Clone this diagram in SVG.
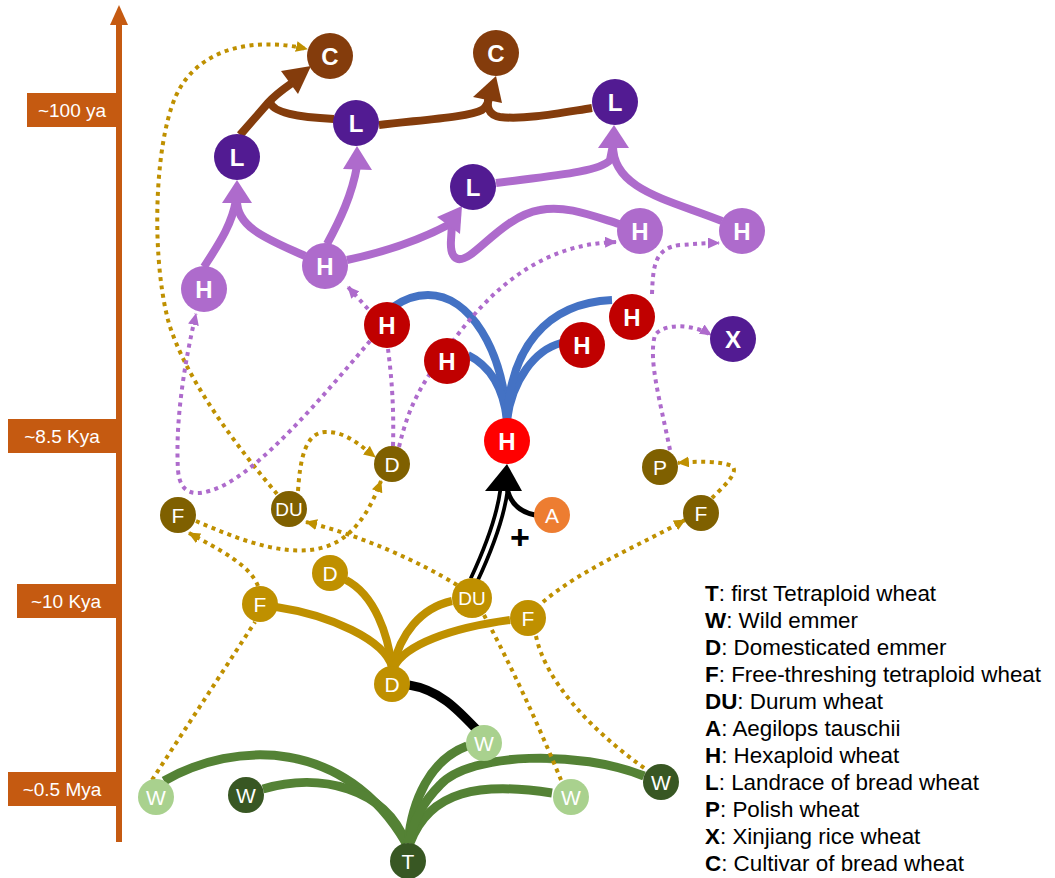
<svg xmlns="http://www.w3.org/2000/svg" width="1055" height="878" viewBox="0 0 1055 878">
<defs>
<style>
.e{fill:none;stroke-linecap:butt}
.pu{stroke:#ae6bcc;stroke-width:8}
.br{stroke:#843c0c;stroke-width:8}
.bl{stroke:#4472c4;stroke-width:8}
.go{stroke:#bf9000;stroke-width:8}
.gr{stroke:#548235;stroke-width:9}
.dg{stroke:#bf9000;stroke-width:4;stroke-dasharray:4 4.5}
.dp{stroke:#ae6bcc;stroke-width:4;stroke-dasharray:4 4.5}
.lbl{font-family:"Liberation Sans",Arial,sans-serif;fill:#fff;text-anchor:middle}
.big{font-weight:bold;font-size:24px}
.sm{font-size:21px}
.du{font-size:19px}
.tl{font-family:"Liberation Sans",Arial,sans-serif;fill:#fff;font-size:19px;text-anchor:middle}
.lg{font-family:"Liberation Sans",Arial,sans-serif;font-size:22.4px;fill:#000}
.lg tspan.b{font-weight:bold}
</style>
<marker id="ag" markerUnits="userSpaceOnUse" markerWidth="12" markerHeight="11" refX="11" refY="5.5" orient="auto"><path d="M0,0 L12,5.5 L0,11 z" fill="#bf9000"/></marker>
<marker id="ap" markerUnits="userSpaceOnUse" markerWidth="12" markerHeight="11" refX="11" refY="5.5" orient="auto"><path d="M0,0 L12,5.5 L0,11 z" fill="#ae6bcc"/></marker>
</defs>

<g id="timeline">
<line x1="119" y1="20" x2="119" y2="842" stroke="#c55a11" stroke-width="6"/>
<polygon points="119,5 110,25 128,25" fill="#c55a11"/>
<rect x="27" y="93" width="90" height="34" fill="#c55a11"/>
<text class="tl" x="72" y="117">~100 ya</text>
<rect x="8" y="419" width="109" height="34" fill="#c55a11"/>
<text class="tl" x="62" y="443">~8.5 Kya</text>
<rect x="17" y="584" width="100" height="34" fill="#c55a11"/>
<text class="tl" x="66" y="608">~10 Kya</text>
<rect x="8" y="772" width="109" height="34" fill="#c55a11"/>
<text class="tl" x="62" y="796">~0.5 Mya</text>
</g>

<g id="connectors">
<!-- green -->
<path class="e gr" d="M164,781 C235,740 345,738 406,843"/>
<path class="e gr" d="M263,789 C320,772 385,788 406,843"/>
<path class="e gr" d="M467,746 C430,760 412,800 408,843"/>
<path class="e gr" d="M552,793 C480,782 430,790 410,843"/>
<path class="e gr" d="M644,776 C580,750 470,752 440,785 C425,800 413,820 409,843"/>
<!-- black D to W -->
<path class="e" d="M409,685 C440,690 458,710 478,731" stroke="#000" stroke-width="9"/>
<!-- gold solid -->
<path class="e go" d="M346,580 C375,595 388,635 392,667"/>
<path class="e go" d="M276,607 C330,615 385,640 392,667"/>
<path class="e go" d="M452,601 C420,608 400,635 393,667"/>
<path class="e go" d="M510,620 C450,628 405,645 394,667"/>
<!-- double arrow DU to H -->
<path class="e" d="M474,580 C488,550 500,520 504,490" stroke="#000" stroke-width="11"/>
<path class="e" d="M474,580 C488,550 500,520 504,490" stroke="#fff" stroke-width="3.5"/>
<path class="e" d="M535,515 C520,512 510,503 507,488" stroke="#000" stroke-width="5"/>
<polygon points="507,464 485,491 522,491" fill="#000"/>
<text x="520" y="549" font-family="Liberation Sans,Arial,sans-serif" font-weight="bold" font-size="34" text-anchor="middle" fill="#000">+</text>
<!-- blue -->
<path class="e bl" d="M507,420 C503,350 470,295 428,295 C412,295 400,302 393,307"/>
<path class="e bl" d="M468,355 C488,365 503,385 507,420"/>
<path class="e bl" d="M561,343 C535,350 512,380 507,420"/>
<path class="e bl" d="M507,420 C510,350 545,303 612,300"/>
<!-- purple solid -->
<path class="e pu" d="M204,267 C218,245 232,225 236,200"/>
<path class="e pu" d="M305,256 C270,240 236,228 237,200"/>
<polygon points="237,180 222,203 252,203" fill="#ae6bcc"/>
<path class="e pu" d="M327,244 C340,220 352,195 357,166"/>
<polygon points="357,146 343,169 372,170" fill="#ae6bcc"/>
<path class="e pu" d="M347,260 C385,252 420,240 450,224"/>
<path class="e pu" d="M619,224 C590,215 565,205 540,210 C510,215 485,245 470,255 C455,265 450,255 451,240 L452,224"/>
<polygon points="462,206 437,217 460,234" fill="#ae6bcc"/>
<path class="e pu" d="M496,183 C550,176 600,172 610,160 L613,145"/>
<path class="e pu" d="M722,221 C670,200 612,190 613,145"/>
<polygon points="614,125 598,148 629,148" fill="#ae6bcc"/>
<!-- brown -->
<path class="e br" d="M240,135 L268,103 C274,96 282,90 292,83"/>
<path class="e br" d="M334,119 C300,117 271,113 270,101"/>
<polygon points="311,66 281,71 298,94" fill="#843c0c"/>
<path class="e br" d="M379,125 C420,120 470,117 482,110 C488,106 489,100 489,96"/>
<path class="e br" d="M592,108 C560,113 525,120 500,117 C488,115 486,106 489,96"/>
<polygon points="496,76 473,97 502,103" fill="#843c0c"/>
<!-- dotted gold -->
<path class="e dg" marker-end="url(#ag)" d="M277,494 C240,450 185,380 168,320 C150,250 155,130 180,88 C205,45 260,38 307,49"/>
<path class="e dg" marker-end="url(#ag)" d="M298,491 C300,460 305,433 325,432 C345,431 360,445 375,457"/>
<path class="e dg" marker-end="url(#ag)" d="M196,521 C240,540 300,565 340,540 C360,527 372,505 381,481"/>
<path class="e dg" marker-end="url(#ag)" d="M457,585 C420,562 360,535 306,522"/>
<path class="e dg" marker-end="url(#ag)" d="M258,586 C250,565 220,550 189,533"/>
<path class="e dg" d="M152,780 L255,622"/>
<path class="e dg" marker-end="url(#ag)" d="M543,602 C580,570 640,545 685,520"/>
<path class="e dg" marker-end="url(#ag)" d="M712,498 C722,488 740,472 732,466 C720,461 697,461 678,463"/>
<path class="e dg" d="M484,615 Q524,690 561,780"/>
<path class="e dg" d="M536,636 C545,680 590,730 647,770"/>
<!-- dotted purple -->
<path class="e dp" marker-end="url(#ap)" d="M370,341 C320,400 262,468 220,487 C195,498 180,495 178,470 C175,420 185,360 196,314"/>
<path class="e dp" marker-end="url(#ap)" d="M368,309 L348,287"/>
<path class="e dp" d="M393,446 C394,410 392,380 388,349"/>
<path class="e dp" marker-end="url(#ap)" d="M399,447 C410,400 425,380 450,345 C490,290 540,244 616,242"/>
<path class="e dp" marker-end="url(#ap)" d="M652,294 C653,265 655,248 680,245 C695,244 705,243 719,243"/>
<path class="e dp" marker-end="url(#ap)" d="M670,450 C660,400 648,360 655,335 C665,322 695,325 711,335"/>
</g>

<g id="node-C1"><circle cx="330" cy="56" r="23" fill="#843c0c"/><text class="lbl big" x="330" y="65">C</text></g>
<g id="node-C2"><circle cx="496" cy="53" r="23" fill="#843c0c"/><text class="lbl big" x="496" y="62">C</text></g>
<g id="node-L1"><circle cx="237" cy="157" r="23" fill="#521b92"/><text class="lbl big" x="237" y="166">L</text></g>
<g id="node-L2"><circle cx="356" cy="123" r="23" fill="#521b92"/><text class="lbl big" x="356" y="132">L</text></g>
<g id="node-L3"><circle cx="473" cy="187" r="23" fill="#521b92"/><text class="lbl big" x="473" y="196">L</text></g>
<g id="node-L4"><circle cx="615" cy="102" r="23" fill="#521b92"/><text class="lbl big" x="615" y="111">L</text></g>
<g id="node-Hp1"><circle cx="204" cy="289" r="23" fill="#ae6bcc"/><text class="lbl big" x="204" y="298">H</text></g>
<g id="node-Hp2"><circle cx="325" cy="266" r="23" fill="#ae6bcc"/><text class="lbl big" x="325" y="275">H</text></g>
<g id="node-Hp3"><circle cx="640" cy="231" r="23" fill="#ae6bcc"/><text class="lbl big" x="640" y="240">H</text></g>
<g id="node-Hp4"><circle cx="742" cy="231" r="23" fill="#ae6bcc"/><text class="lbl big" x="742" y="240">H</text></g>
<g id="node-Hr1"><circle cx="387" cy="325" r="23" fill="#c00000"/><text class="lbl big" x="387" y="334">H</text></g>
<g id="node-Hr2"><circle cx="447" cy="361" r="23" fill="#c00000"/><text class="lbl big" x="447" y="370">H</text></g>
<g id="node-Hr3"><circle cx="582" cy="345" r="23" fill="#c00000"/><text class="lbl big" x="582" y="354">H</text></g>
<g id="node-Hr4"><circle cx="632" cy="317" r="23" fill="#c00000"/><text class="lbl big" x="632" y="326">H</text></g>
<g id="node-X"><circle cx="733" cy="339" r="23" fill="#521b92"/><text class="lbl big" x="733" y="348">X</text></g>
<g id="node-H0"><circle cx="507" cy="441" r="23" fill="#ff0000"/><text class="lbl big" x="507" y="450">H</text></g>
<g id="node-Db"><circle cx="392" cy="464" r="18" fill="#7f6000"/><text class="lbl sm" x="392" y="472">D</text></g>
<g id="node-DUb"><circle cx="289" cy="509" r="18" fill="#7f6000"/><text class="lbl du" x="289" y="516">DU</text></g>
<g id="node-Fb1"><circle cx="178" cy="515" r="18" fill="#7f6000"/><text class="lbl sm" x="178" y="523">F</text></g>
<g id="node-P"><circle cx="660" cy="467" r="18" fill="#7f6000"/><text class="lbl sm" x="660" y="475">P</text></g>
<g id="node-Fb2"><circle cx="701" cy="513" r="18" fill="#7f6000"/><text class="lbl sm" x="701" y="521">F</text></g>
<g id="node-A"><circle cx="552" cy="515" r="18" fill="#ed7d31"/><text class="lbl sm" x="552" y="523">A</text></g>
<g id="node-Dg1"><circle cx="330" cy="573" r="18" fill="#bf9000"/><text class="lbl sm" x="330" y="581">D</text></g>
<g id="node-Fg1"><circle cx="260" cy="604" r="18" fill="#bf9000"/><text class="lbl sm" x="260" y="612">F</text></g>
<g id="node-DUg"><circle cx="472" cy="598" r="20" fill="#bf9000"/><text class="lbl du" x="472" y="605">DU</text></g>
<g id="node-Fg2"><circle cx="528" cy="618" r="18" fill="#bf9000"/><text class="lbl sm" x="528" y="626">F</text></g>
<g id="node-Dg2"><circle cx="392" cy="684" r="18" fill="#bf9000"/><text class="lbl sm" x="392" y="692">D</text></g>
<g id="node-W1"><circle cx="156" cy="797" r="18" fill="#a9d18e"/><text class="lbl sm" x="156" y="805">W</text></g>
<g id="node-W2"><circle cx="246" cy="795" r="18" fill="#385723"/><text class="lbl sm" x="246" y="803">W</text></g>
<g id="node-W3"><circle cx="484" cy="743" r="18" fill="#a9d18e"/><text class="lbl sm" x="484" y="751">W</text></g>
<g id="node-W4"><circle cx="571" cy="797" r="18" fill="#a9d18e"/><text class="lbl sm" x="571" y="805">W</text></g>
<g id="node-W5"><circle cx="661" cy="782" r="18" fill="#385723"/><text class="lbl sm" x="661" y="790">W</text></g>
<g id="node-T"><circle cx="408" cy="861" r="18" fill="#385723"/><text class="lbl sm" x="408" y="869">T</text></g>

<g id="legend" class="lg">
<text x="705" y="601"><tspan class="b">T</tspan>: first Tetraploid wheat</text>
<text x="705" y="628"><tspan class="b">W</tspan>: Wild emmer</text>
<text x="705" y="655"><tspan class="b">D</tspan>: Domesticated emmer</text>
<text x="705" y="682"><tspan class="b">F</tspan>: Free-threshing tetraploid wheat</text>
<text x="705" y="709"><tspan class="b">DU</tspan>: Durum wheat</text>
<text x="705" y="736"><tspan class="b">A</tspan>: Aegilops tauschii</text>
<text x="705" y="763"><tspan class="b">H</tspan>: Hexaploid wheat</text>
<text x="705" y="790"><tspan class="b">L</tspan>: Landrace of bread wheat</text>
<text x="705" y="817"><tspan class="b">P</tspan>: Polish wheat</text>
<text x="705" y="844"><tspan class="b">X</tspan>: Xinjiang rice wheat</text>
<text x="705" y="871"><tspan class="b">C</tspan>: Cultivar of bread wheat</text>
</g>
</svg>
